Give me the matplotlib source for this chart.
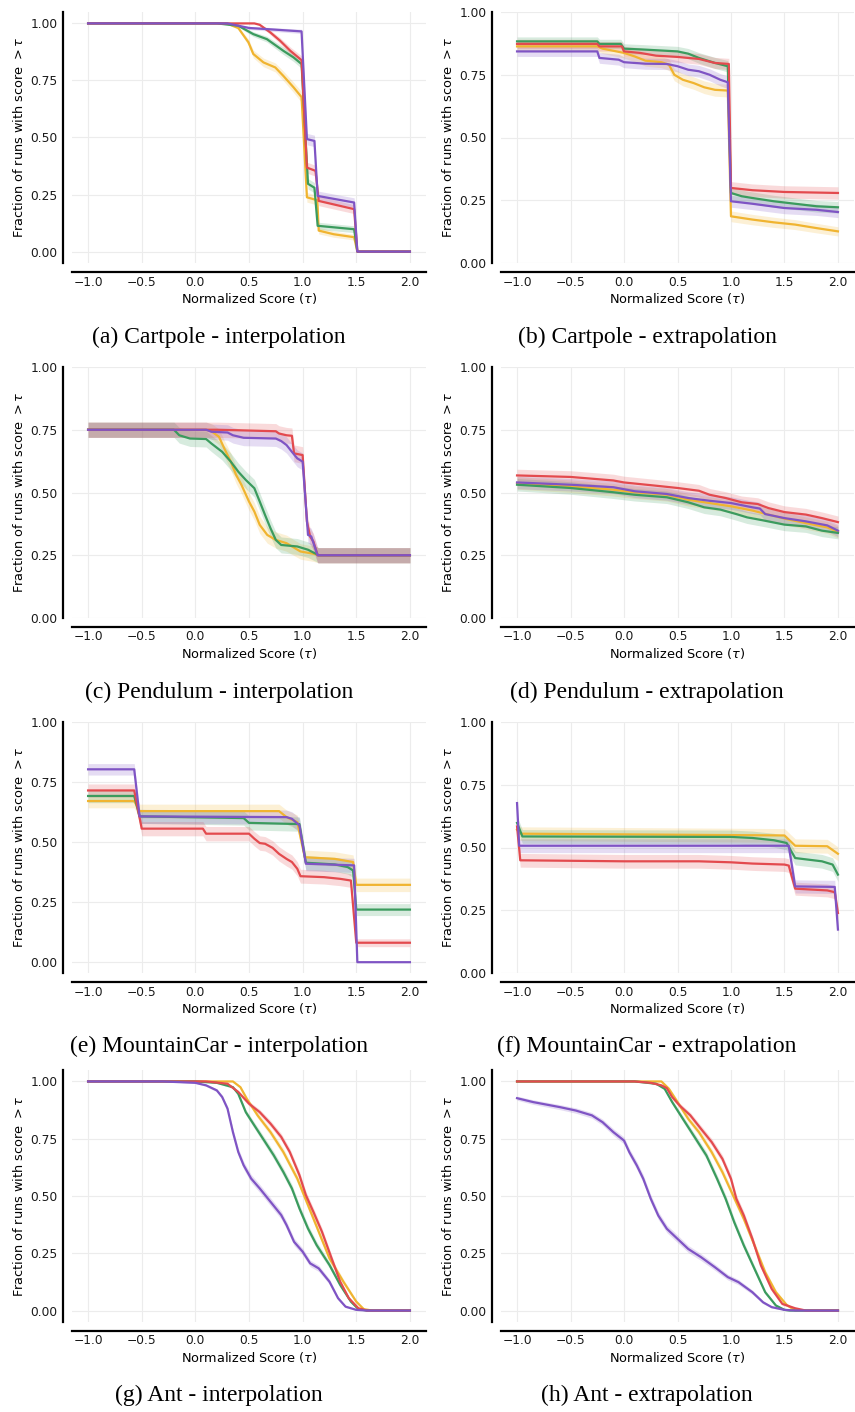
import numpy as np
import matplotlib
matplotlib.use("Agg")
import matplotlib.pyplot as plt

# colours of the four methods (drawn in this order)
colors = ["#f0b430", "#3b9b5e", "#e34a4e", "#7f54c4"]

captions = ["(a) Cartpole - interpolation", "(b) Cartpole - extrapolation",
            "(c) Pendulum - interpolation", "(d) Pendulum - extrapolation",
            "(e) MountainCar - interpolation", "(f) MountainCar - extrapolation",
            "(g) Ant - interpolation", "(h) Ant - extrapolation"]

xticks = [-1.0, -0.5, 0.0, 0.5, 1.0, 1.5, 2.0]
yticks = [0.0, 0.25, 0.5, 0.75, 1.0]

# (tau, fraction) pairs
a_yellow = [(-1.0, 1.0), (0.29, 1.0), (0.40, 0.98), (0.495, 0.917), (0.54, 0.866), (0.635, 0.829),
            (0.745, 0.807), (0.82, 0.77), (0.915, 0.72), (0.99, 0.677), (1.04, 0.238), (1.137, 0.225),
            (1.15, 0.092), (1.29, 0.076), (1.48, 0.063), (1.51, 0.0), (2.0, 0.0)]
a_green = [(-1.0, 1.0), (0.2, 1.0), (0.4, 0.99), (0.54, 0.953), (0.667, 0.931), (0.73, 0.91), (0.82, 0.88),
           (0.915, 0.851), (0.99, 0.822), (1.05, 0.297), (1.11, 0.28), (1.14, 0.113), (1.48, 0.098),
           (1.51, 0.0), (2.0, 0.0)]
a_red = [(-1.0, 1.0), (0.55, 1.0), (0.6, 0.994), (0.70, 0.96), (0.79, 0.924), (0.885, 0.88), (0.99, 0.839),
         (1.04, 0.368), (1.12, 0.354), (1.15, 0.222), (1.48, 0.186), (1.51, 0.0), (2.0, 0.0)]
a_purple = [(-1.0, 1.0), (0.3, 1.0), (0.5, 0.98), (0.7, 0.974), (0.99, 0.965), (1.04, 0.493), (1.11, 0.485),
            (1.14, 0.244), (1.48, 0.215), (1.51, 0.0), (2.0, 0.0)]

b_yellow = [(-1.0, 0.863), (-0.25, 0.863), (-0.2, 0.854), (0.0, 0.837), (0.1, 0.823), (0.2, 0.806),
            (0.35, 0.80), (0.42, 0.79), (0.47, 0.75), (0.55, 0.73), (0.65, 0.717), (0.75, 0.70),
            (0.85, 0.69), (0.97, 0.687), (1.0, 0.186), (1.2, 0.173), (1.4, 0.162), (1.6, 0.153),
            (1.8, 0.139), (2.0, 0.126)]
b_green = [(-1.0, 0.883), (-0.25, 0.883), (-0.23, 0.873), (-0.03, 0.873), (0.0, 0.854), (0.2, 0.85),
           (0.5, 0.843), (0.6, 0.834), (0.7, 0.817), (0.85, 0.797), (0.97, 0.784), (1.0, 0.279),
           (1.1, 0.266), (1.2, 0.259), (1.4, 0.246), (1.6, 0.236), (1.8, 0.226), (2.0, 0.222)]
b_red = [(-1.0, 0.873), (-0.25, 0.873), (-0.23, 0.863), (-0.02, 0.863), (0.0, 0.843), (0.15, 0.837),
         (0.3, 0.826), (0.5, 0.821), (0.7, 0.813), (0.85, 0.797), (0.98, 0.793), (1.0, 0.299),
         (1.2, 0.29), (1.5, 0.283), (2.0, 0.279)]
b_purple = [(-1.0, 0.843), (-0.25, 0.843), (-0.23, 0.817), (-0.05, 0.81), (0.0, 0.80), (0.2, 0.794),
            (0.4, 0.793), (0.5, 0.784), (0.6, 0.77), (0.7, 0.764), (0.8, 0.75), (0.9, 0.73),
            (0.97, 0.72), (1.0, 0.246), (1.2, 0.236), (1.5, 0.219), (1.8, 0.212), (2.0, 0.203)]

c_yellow = [(-1.0, 0.75), (0.1, 0.75), (0.15, 0.744), (0.22, 0.722), (0.27, 0.675), (0.33, 0.623),
            (0.38, 0.57), (0.43, 0.53), (0.5, 0.464), (0.55, 0.424), (0.6, 0.371), (0.67, 0.331),
            (0.75, 0.311), (0.85, 0.298), (0.98, 0.265), (1.1, 0.256), (1.15, 0.25), (2.0, 0.25)]
c_green = [(-1.0, 0.75), (-0.2, 0.75), (-0.15, 0.728), (-0.05, 0.715), (0.1, 0.713), (0.15, 0.695),
           (0.25, 0.662), (0.33, 0.623), (0.4, 0.583), (0.47, 0.55), (0.55, 0.517), (0.6, 0.464),
           (0.65, 0.41), (0.7, 0.358), (0.75, 0.311), (0.8, 0.291), (0.95, 0.285), (1.05, 0.272),
           (1.15, 0.25), (2.0, 0.25)]
c_red = [(-1.0, 0.75), (0.2, 0.75), (0.4, 0.748), (0.75, 0.744), (0.78, 0.735), (0.85, 0.728),
         (0.9, 0.726), (0.92, 0.656), (1.0, 0.649), (1.04, 0.384), (1.07, 0.324), (1.1, 0.305),
         (1.14, 0.25), (2.0, 0.25)]
c_purple = [(-1.0, 0.75), (0.1, 0.75), (0.15, 0.742), (0.3, 0.739), (0.35, 0.728), (0.45, 0.718),
            (0.75, 0.715), (0.8, 0.705), (0.85, 0.689), (0.9, 0.662), (0.95, 0.636), (1.0, 0.623),
            (1.05, 0.331), (1.08, 0.325), (1.14, 0.25), (2.0, 0.25)]

d_yellow = [(-1.0, 0.538), (-0.5, 0.525), (-0.1, 0.511), (0.1, 0.501), (0.4, 0.491), (0.6, 0.471),
            (0.8, 0.458), (1.0, 0.445), (1.2, 0.428), (1.35, 0.412), (1.5, 0.396), (1.7, 0.378),
            (1.9, 0.361), (2.0, 0.343)]
d_green = [(-1.0, 0.531), (-0.5, 0.518), (-0.1, 0.501), (0.1, 0.491), (0.4, 0.481), (0.6, 0.461),
           (0.75, 0.441), (0.9, 0.432), (1.05, 0.414), (1.15, 0.401), (1.3, 0.389), (1.5, 0.372),
           (1.7, 0.365), (1.85, 0.348), (2.0, 0.339)]
d_red = [(-1.0, 0.568), (-0.5, 0.562), (-0.1, 0.548), (0.0, 0.54), (0.3, 0.527), (0.5, 0.518),
         (0.7, 0.507), (0.8, 0.491), (0.95, 0.478), (1.1, 0.461), (1.25, 0.454), (1.35, 0.438),
         (1.5, 0.422), (1.7, 0.412), (1.85, 0.398), (2.0, 0.382)]
d_purple = [(-1.0, 0.54), (-0.5, 0.531), (-0.1, 0.521), (0.1, 0.505), (0.4, 0.494), (0.6, 0.478),
            (0.8, 0.467), (1.0, 0.458), (1.2, 0.441), (1.27, 0.436), (1.32, 0.414), (1.5, 0.398),
            (1.7, 0.385), (1.9, 0.369), (2.0, 0.348)]

e_yellow = [(-1.0, 0.671), (-0.57, 0.671), (-0.52, 0.629), (0.78, 0.629), (0.85, 0.604), (0.95, 0.583),
            (1.02, 0.437), (1.3, 0.43), (1.47, 0.417), (1.5, 0.322), (2.0, 0.322)]
e_green = [(-1.0, 0.692), (-0.57, 0.692), (-0.52, 0.607), (0.45, 0.6), (0.5, 0.58), (0.97, 0.575),
           (1.03, 0.414), (1.3, 0.407), (1.42, 0.396), (1.47, 0.382), (1.5, 0.219), (2.0, 0.219)]
e_red = [(-1.0, 0.715), (-0.57, 0.715), (-0.5, 0.556), (0.07, 0.556), (0.1, 0.535), (0.5, 0.535),
         (0.55, 0.514), (0.6, 0.496), (0.65, 0.493), (0.72, 0.476), (0.78, 0.451), (0.85, 0.43),
         (0.9, 0.417), (0.95, 0.389), (0.98, 0.358), (1.2, 0.354), (1.35, 0.347), (1.45, 0.34),
         (1.5, 0.081), (2.0, 0.081)]
e_purple = [(-1.0, 0.803), (-0.57, 0.803), (-0.52, 0.607), (0.85, 0.604), (0.9, 0.597), (0.97, 0.57),
            (1.03, 0.41), (1.48, 0.403), (1.51, 0.0), (2.0, 0.0)]

f_yellow = [(-1.0, 0.571), (-0.97, 0.555), (1.5, 0.548), (1.6, 0.507), (1.9, 0.505), (2.0, 0.475)]
f_green = [(-1.0, 0.598), (-0.95, 0.544), (1.0, 0.542), (1.2, 0.538), (1.4, 0.529), (1.52, 0.518),
           (1.6, 0.458), (1.85, 0.445), (1.95, 0.432), (2.0, 0.392)]
f_red = [(-1.0, 0.584), (-0.97, 0.449), (0.0, 0.445), (0.7, 0.445), (1.0, 0.441), (1.2, 0.436),
         (1.5, 0.432), (1.54, 0.428), (1.6, 0.336), (1.9, 0.329), (1.97, 0.322), (2.0, 0.239)]
f_purple = [(-1.0, 0.677), (-0.98, 0.507), (1.54, 0.507), (1.6, 0.345), (1.97, 0.343), (2.0, 0.173)]

g_yellow = [(-1.0, 1.0), (0.35, 1.0), (0.42, 0.975), (0.48, 0.924), (0.58, 0.852), (0.7, 0.779),
            (0.82, 0.692), (0.95, 0.576), (1.05, 0.46), (1.15, 0.344), (1.25, 0.228), (1.38, 0.126),
            (1.5, 0.039), (1.57, 0.006), (1.65, 0.0), (2.0, 0.0)]
g_green = [(-1.0, 1.0), (0.0, 1.0), (0.2, 0.994), (0.35, 0.975), (0.4, 0.946), (0.47, 0.866), (0.55, 0.808),
           (0.65, 0.736), (0.73, 0.678), (0.82, 0.605), (0.9, 0.533), (0.97, 0.446), (1.05, 0.358),
           (1.13, 0.286), (1.25, 0.199), (1.35, 0.112), (1.45, 0.039), (1.52, 0.006), (1.6, 0.0), (2.0, 0.0)]
g_red = [(-1.0, 1.0), (0.1, 1.0), (0.3, 0.99), (0.4, 0.954), (0.5, 0.903), (0.6, 0.866), (0.7, 0.816),
         (0.8, 0.758), (0.88, 0.692), (0.97, 0.591), (1.03, 0.504), (1.1, 0.431), (1.18, 0.344),
         (1.27, 0.228), (1.35, 0.126), (1.43, 0.054), (1.52, 0.01), (1.6, 0.0), (2.0, 0.0)]
g_purple = [(-1.0, 1.0), (-0.3, 1.0), (0.0, 0.994), (0.1, 0.983), (0.2, 0.961), (0.25, 0.932), (0.3, 0.881),
            (0.35, 0.779), (0.4, 0.692), (0.45, 0.634), (0.52, 0.576), (0.6, 0.533), (0.7, 0.475),
            (0.8, 0.417), (0.85, 0.373), (0.92, 0.30), (1.0, 0.257), (1.07, 0.206), (1.15, 0.184),
            (1.25, 0.126), (1.33, 0.054), (1.4, 0.017), (1.5, 0.003), (1.6, 0.0), (2.0, 0.0)]

h_yellow = [(-1.0, 1.0), (0.35, 1.0), (0.42, 0.968), (0.5, 0.91), (0.6, 0.837), (0.7, 0.779), (0.82, 0.691),
            (0.92, 0.604), (1.02, 0.502), (1.12, 0.40), (1.22, 0.284), (1.32, 0.167), (1.42, 0.08),
            (1.52, 0.025), (1.6, 0.0), (2.0, 0.0)]
h_green = [(-1.0, 1.0), (0.1, 1.0), (0.3, 0.99), (0.38, 0.968), (0.45, 0.91), (0.55, 0.837), (0.67, 0.75),
           (0.77, 0.677), (0.87, 0.575), (0.95, 0.488), (1.03, 0.386), (1.12, 0.284), (1.22, 0.182),
           (1.32, 0.08), (1.42, 0.022), (1.5, 0.003), (1.55, 0.0), (2.0, 0.0)]
h_red = [(-1.0, 1.0), (0.1, 1.0), (0.25, 0.994), (0.35, 0.983), (0.4, 0.971), (0.45, 0.932), (0.52, 0.895),
         (0.62, 0.852), (0.72, 0.793), (0.82, 0.735), (0.92, 0.662), (1.0, 0.575), (1.05, 0.488),
         (1.12, 0.415), (1.2, 0.313), (1.28, 0.197), (1.38, 0.095), (1.48, 0.029), (1.6, 0.01),
         (1.7, 0.0), (2.0, 0.0)]
h_purple = [(-1.0, 0.927), (-0.85, 0.91), (-0.6, 0.888), (-0.45, 0.873), (-0.3, 0.852), (-0.2, 0.822),
            (-0.1, 0.779), (0.0, 0.742), (0.05, 0.691), (0.12, 0.633), (0.18, 0.575), (0.25, 0.488),
            (0.32, 0.415), (0.4, 0.357), (0.5, 0.313), (0.6, 0.269), (0.72, 0.233), (0.85, 0.189),
            (0.97, 0.146), (1.07, 0.124), (1.2, 0.08), (1.3, 0.036), (1.38, 0.015), (1.5, 0.003),
            (1.6, 0.0), (2.0, 0.0)]

panels = [
    [a_yellow, a_green, a_red, a_purple],
    [b_yellow, b_green, b_red, b_purple],
    [c_yellow, c_green, c_red, c_purple],
    [d_yellow, d_green, d_red, d_purple],
    [e_yellow, e_green, e_red, e_purple],
    [f_yellow, f_green, f_red, f_purple],
    [g_yellow, g_green, g_red, g_purple],
    [h_yellow, h_green, h_red, h_purple],
]
# scale of the confidence band, per panel
band_scale = [0.05, 0.055, 0.07, 0.05, 0.06, 0.055, 0.035, 0.035]

ylims = [(-0.05, 1.05), (0, 1), (0, 1), (0, 1), (-0.045, 1.0), (0, 1), (-0.05, 1.05), (-0.05, 1.05)]

fig = plt.figure(figsize=(8.55, 14.12), dpi=100)
W, H = 855.0, 1412.0
col_left = [72, 501]
col_right = [426, 854]
row_top = [12, 367, 722, 1070]
row_bot = [263, 618, 973, 1322]
cap_x = [219, 647]
cap_y = [337, 692, 1046, 1395]

for i in range(8):
    r, c = i // 2, i % 2
    ax = fig.add_axes([col_left[c] / W, 1 - row_bot[r] / H,
                       (col_right[c] - col_left[c]) / W, (row_bot[r] - row_top[r]) / H])
    for color, pts in zip(colors, panels[i]):
        x = np.array([p[0] for p in pts])
        y = np.array([p[1] for p in pts])
        half = band_scale[i] * np.sqrt(np.clip(y * (1 - y), 0, None))
        ax.fill_between(x, y - half, y + half, color=color, alpha=0.2, lw=0)
        ax.plot(x, y, color=color, lw=1.6)
    ax.set_xlim(-1.15, 2.15)
    ax.set_ylim(*ylims[i])
    ax.set_xticks(xticks)
    ax.set_yticks(yticks)
    ax.set_xticklabels(["\u22121.0", "\u22120.5", "0.0", "0.5", "1.0", "1.5", "2.0"])
    ax.set_yticklabels(["0.00", "0.25", "0.50", "0.75", "1.00"])
    ax.grid(True, color="#ececec", lw=0.8)
    ax.set_axisbelow(True)
    for s in ["top", "right"]:
        ax.spines[s].set_visible(False)
    for s in ["left", "bottom"]:
        ax.spines[s].set_position(("outward", 6.5))
        ax.spines[s].set_linewidth(1.6)
        ax.spines[s].set_color("black")
    ax.tick_params(length=0, labelsize=8.8, colors="#1a1a1a")
    ax.tick_params(axis="x", pad=2.5)
    ax.tick_params(axis="y", pad=4)
    ax.set_xlabel(r"Normalized Score ($\tau$)", fontsize=9.3, labelpad=2)
    ax.set_ylabel(r"Fraction of runs with score $> \tau$", fontsize=9.3, labelpad=3)
    fig.text(cap_x[c] / W, 1 - cap_y[r] / H, captions[i], ha="center", va="center",
             family="Liberation Serif", fontsize=17)

fig.savefig("out.png", dpi=100)
